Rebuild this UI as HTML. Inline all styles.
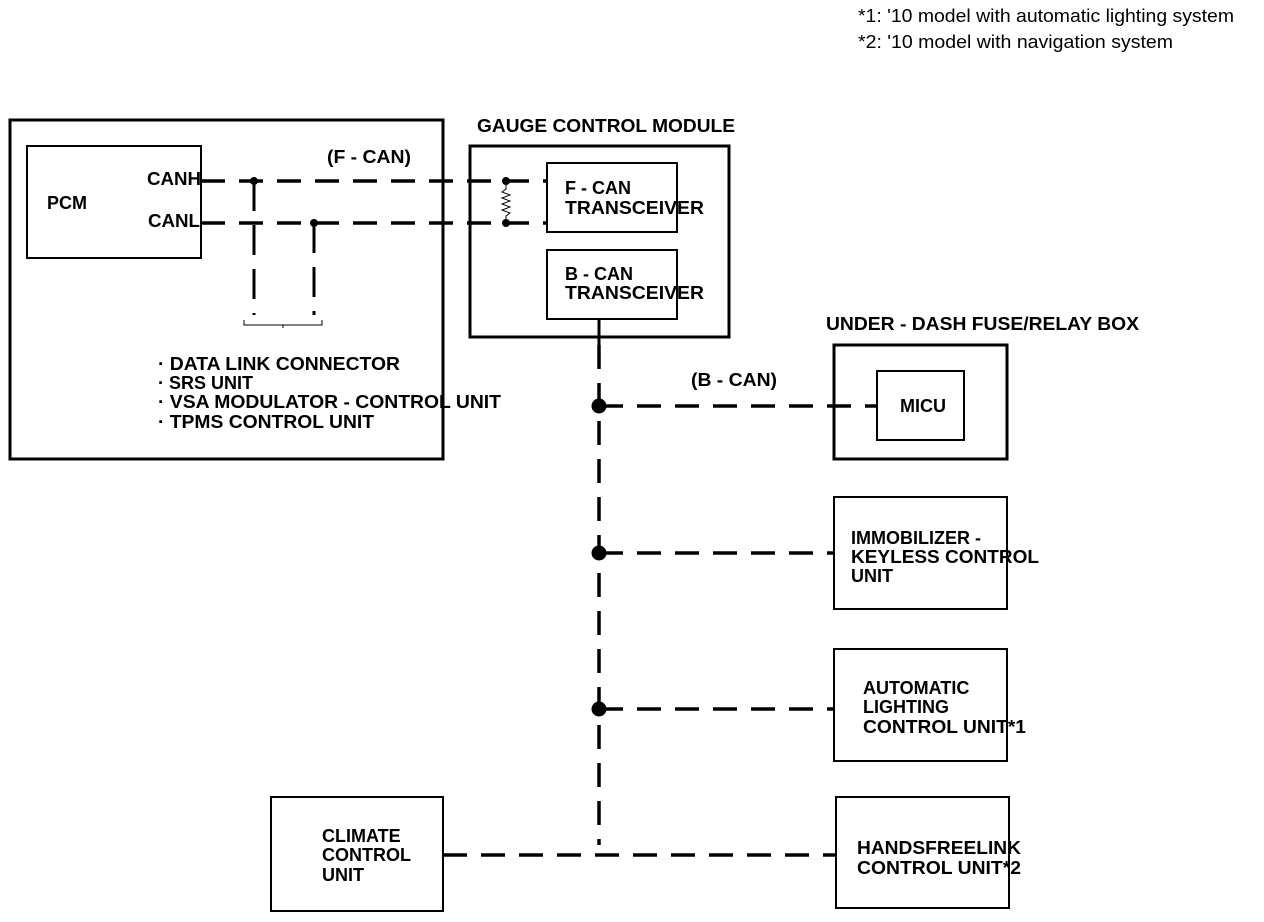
<!DOCTYPE html>
<html><head><meta charset="utf-8"><style>
html,body{margin:0;padding:0;background:#fff;}
svg{display:block;}
text{font-family:"Liberation Sans",Arial,sans-serif;fill:#000;}
.t{font-size:18px;font-weight:bold;}
.n{font-size:18px;}
</style></head><body>
<svg width="1264" height="922" viewBox="0 0 1264 922" xmlns="http://www.w3.org/2000/svg">
<g fill="none" stroke="#000">
<rect x="10" y="120" width="433" height="339" stroke-width="3"/>
<rect x="27" y="146" width="174" height="112" stroke-width="2"/>
<rect x="470" y="146" width="259" height="191" stroke-width="3"/>
<rect x="547" y="163" width="130" height="69" stroke-width="2"/>
<rect x="547" y="250" width="130" height="69" stroke-width="2"/>
<rect x="834" y="345" width="173" height="114" stroke-width="3"/>
<rect x="877" y="371" width="87" height="69" stroke-width="2"/>
<rect x="834" y="497" width="173" height="112" stroke-width="2"/>
<rect x="834" y="649" width="173" height="112" stroke-width="2"/>
<rect x="836" y="797" width="173" height="111" stroke-width="2"/>
<rect x="271" y="797" width="172" height="114" stroke-width="2"/>
<g stroke-width="3.5" stroke-dasharray="24,14">
<line x1="201" y1="181" x2="547" y2="181"/>
<line x1="201" y1="223" x2="547" y2="223"/>
</g>
<g stroke-width="3" stroke-dasharray="30,14">
<line x1="254" y1="181" x2="254" y2="315"/>
<line x1="314" y1="223" x2="314" y2="315"/>
</g>
<path d="M244,320 v5 h78 v-5 M283,325 v3" stroke-width="1"/>
<path d="M506,181 v8 l-4,3 l8,3 l-8,3 l8,3 l-8,3 l8,3 l-8,3 l8,3 l-4,3 v6" stroke-width="1"/>
<line x1="599" y1="319" x2="599" y2="345" stroke-width="3"/>
<line x1="599" y1="345" x2="599" y2="845" stroke-width="3.5" stroke-dasharray="24,14"/>
<g stroke-width="3.5" stroke-dasharray="24,14">
<line x1="599" y1="406" x2="877" y2="406"/>
<line x1="599" y1="553" x2="834" y2="553"/>
<line x1="599" y1="709" x2="834" y2="709"/>
<line x1="443" y1="855" x2="836" y2="855"/>
</g>
</g>
<g fill="#000">
<circle cx="254" cy="181" r="4"/>
<circle cx="314" cy="223" r="4"/>
<circle cx="506" cy="181" r="4"/>
<circle cx="506" cy="223" r="4"/>
<circle cx="599" cy="406" r="7.5"/>
<circle cx="599" cy="553" r="7.5"/>
<circle cx="599" cy="709" r="7.5"/>
</g>
<text class="n" x="858" y="22" textLength="376" lengthAdjust="spacingAndGlyphs">*1: '10 model with automatic lighting system</text>
<text class="n" x="858" y="48" textLength="315" lengthAdjust="spacingAndGlyphs">*2: '10 model with navigation system</text>
<text class="t" x="477" y="132" textLength="258" lengthAdjust="spacingAndGlyphs">GAUGE CONTROL MODULE</text>
<text class="t" x="327" y="163" textLength="84" lengthAdjust="spacingAndGlyphs">(F - CAN)</text>
<text class="t" x="47" y="209">PCM</text>
<text class="t" x="147" y="185" textLength="54" lengthAdjust="spacingAndGlyphs">CANH</text>
<text class="t" x="148" y="227" textLength="52" lengthAdjust="spacingAndGlyphs">CANL</text>
<text class="t" x="565" y="194">F - CAN</text>
<text class="t" x="565" y="214" textLength="139" lengthAdjust="spacingAndGlyphs">TRANSCEIVER</text>
<text class="t" x="565" y="280">B - CAN</text>
<text class="t" x="565" y="299" textLength="139" lengthAdjust="spacingAndGlyphs">TRANSCEIVER</text>
<text class="t" x="158" y="370" textLength="242" lengthAdjust="spacingAndGlyphs">· DATA LINK CONNECTOR</text>
<text class="t" x="158" y="389">· SRS UNIT</text>
<text class="t" x="158" y="408" textLength="343" lengthAdjust="spacingAndGlyphs">· VSA MODULATOR - CONTROL UNIT</text>
<text class="t" x="158" y="428" textLength="216" lengthAdjust="spacingAndGlyphs">· TPMS CONTROL UNIT</text>
<text class="t" x="826" y="330" textLength="313" lengthAdjust="spacingAndGlyphs">UNDER - DASH FUSE/RELAY BOX</text>
<text class="t" x="691" y="386" textLength="86" lengthAdjust="spacingAndGlyphs">(B - CAN)</text>
<text class="t" x="900" y="412">MICU</text>
<text class="t" x="851" y="544">IMMOBILIZER -</text>
<text class="t" x="851" y="563" textLength="188" lengthAdjust="spacingAndGlyphs">KEYLESS CONTROL</text>
<text class="t" x="851" y="582">UNIT</text>
<text class="t" x="863" y="694">AUTOMATIC</text>
<text class="t" x="863" y="713">LIGHTING</text>
<text class="t" x="863" y="733" textLength="163" lengthAdjust="spacingAndGlyphs">CONTROL UNIT*1</text>
<text class="t" x="857" y="854" textLength="164" lengthAdjust="spacingAndGlyphs">HANDSFREELINK</text>
<text class="t" x="857" y="874" textLength="164" lengthAdjust="spacingAndGlyphs">CONTROL UNIT*2</text>
<text class="t" x="322" y="842">CLIMATE</text>
<text class="t" x="322" y="861">CONTROL</text>
<text class="t" x="322" y="881">UNIT</text>
</svg>
</body></html>
